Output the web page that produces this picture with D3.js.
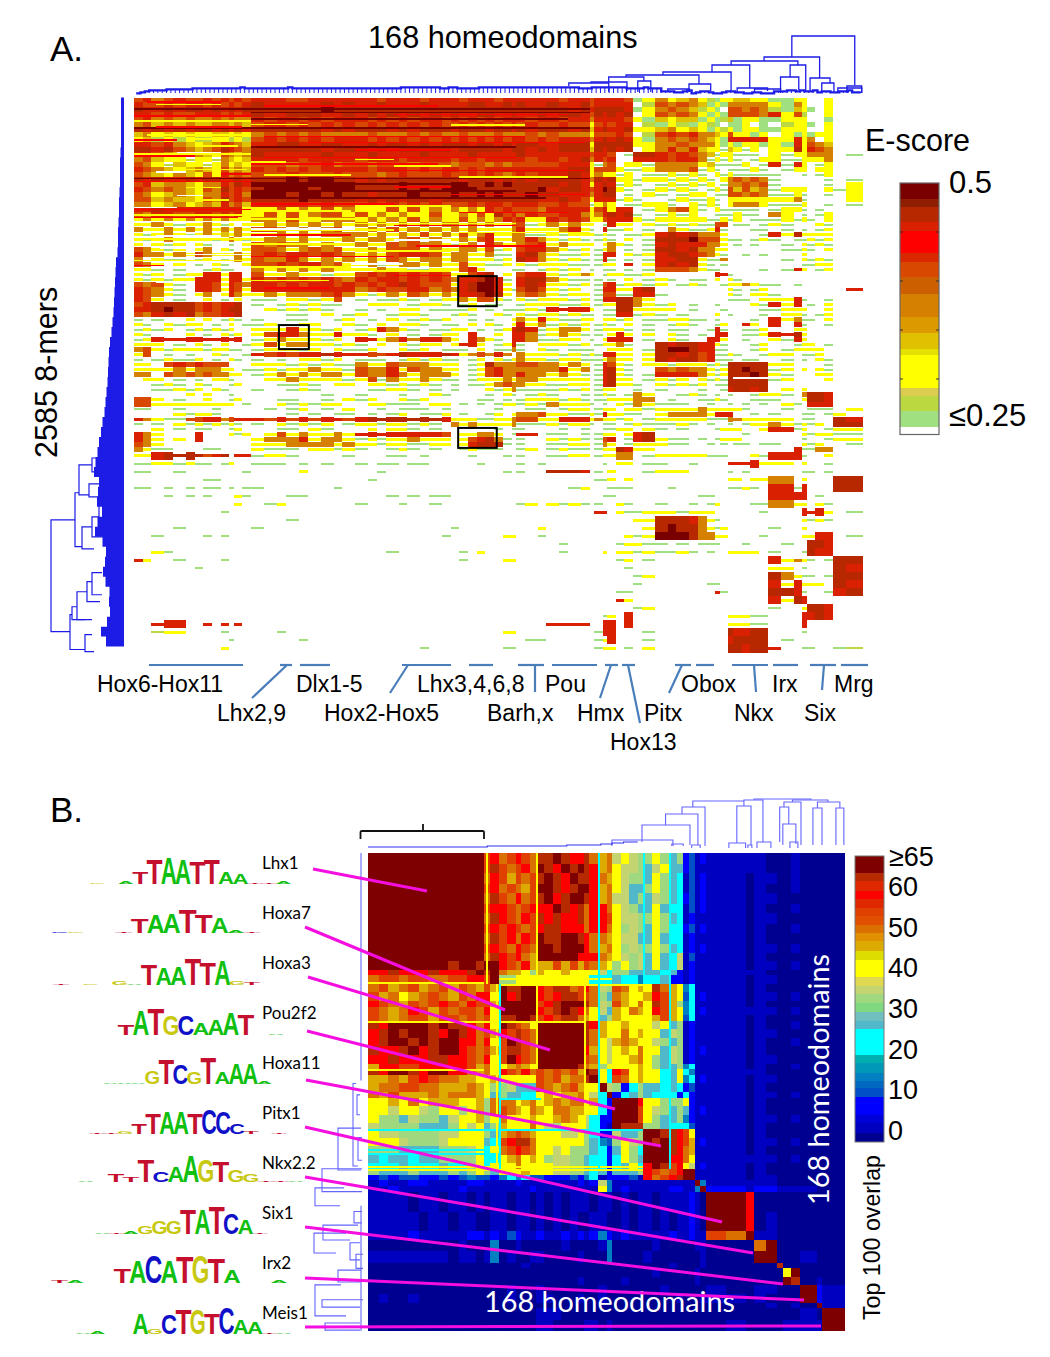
<!DOCTYPE html>
<html><head><meta charset="utf-8">
<script src="https://cdnjs.cloudflare.com/ajax/libs/d3/7.8.5/d3.min.js"></script>
<style>html,body{margin:0;padding:0;background:#fff}svg{display:block}text{font-family:"Liberation Sans",Arial,sans-serif}</style>
</head><body><svg id="c" width="1050" height="1357"></svg>
<script>
// ---------- DATA: panel A, E-score ----------
const eScoreColGroups=[[2,2,3,2,3,2,2,2,2,2,1,2,2],[3,3,2,3,2,3,3,2,3],[3,2,2,3,2,3,2,3,2],[2,2,2,2,2,2,2,1],[2,3,2],[3,2,3,2],[1,2,1,2],[2,2],[2,3],[3,2,3,2],[2,2,1,2],[1],[2,2,2,2],[3,3],[2,1],[2,2,2],[3,4]];
const eScoreLevels=[0.245,0.26,0.275,0.31,0.34,0.375,0.41,0.455,0.47,0.495];
const kmersPerTopRow=23.25, kmersPerLowRow=37.37, topRowCount=71;
const eScoreRows=[
"6756766767676 777667777 776777677 76777677 777 7677 6777 76 13 5345 3213 3 4433 11 33 003 00",
"7667677676767 877777878 778777877 77887787 877 8778 6777 77 02 6565 4131 5 5555 31 53 003 00",
"8778788787878 888888988 888888888 88888888 888 8878 7888 87 13 5654 2310 6 6565 21 43 103 00",
"7767667776767 877888778 787878787 87788778 778 7887 6878 78 03 6565 3131 6 6665 73 62 003 00",
"6756565565655 767767677 767676776 76767677 767 7677 5777 76 31 4344 1312 4 1331 13 33 001 00",
"5645454455454 677676767 676767676 67676767 676 6766 3676 77 02 1321 3210 1 1301 02 33 103 00",
"8787878878787 888888787 888787888 78887887 878 8878 4787 78 33 4534 3132 3 1331 13 33 003 00",
"4534343344343 565656555 565556565 56555655 565 6555 3666 76 02 6767 5543 6 3313 03 13 133 00",
"3423232233232 676767677 767676767 67676767 767 6777 5787 87 31 5656 5431 7 7777 33 73 503 00",
"7767543457654 778877887 787887878 88788787 887 7888 3888 88 33 5565 5531 3 1331 31 73 654 00",
"8878654568765 888888788 878788888 78888878 878 7888 4878 78 03 5757 4331 4 3130 33 83 765 00",
"7765435436545 877777877 787777877 77877777 877 7777 6776 01 88 7676 5413 3 1110 31 33 555 01",
"5643323325434 777767777 677767777 67767777 767 7678 5767 00 77 7677 5131 3 1013 31 13 335 00",
"6532433235343 666566756 656665666 56665656 666 6777 3156 03 31 5555 3411 1 1301 71 73 013 00",
"7654345436454 767676777 767776767 76767777 777 7788 3666 31 13 5556 1310 1 1131 01 33 033 00",
"6543543637565 666766676 665676667 66767656 767 7787 3533 13 01 1313 1031 3 1111 10 01 013 00",
"8787787887787 888989988 787888888 87888787 878 8887 5878 33 13 3131 3103 5 6565 10 00 001 01",
"6745543557687 999999999 888898888 99889898 888 8787 3787 13 10 1313 1301 5 5656 10 00 001 03",
"7656543658676 899998999 888898989 99988888 889 7887 6798 31 01 3131 0131 6 4645 13 33 003 13",
"6534543557675 999899898 878889888 98898988 898 8777 5788 01 03 1013 3011 6 6565 11 31 001 03",
"6645443658676 888898888 787878878 88888888 887 7876 3777 13 10 0131 1310 3 3333 33 51 000 03",
"5534534547564 777776766 676767676 66767767 776 6766 1353 01 13 3103 1310 3 5553 11 13 001 01",
"7787777777773 336353635 333636353 53537676 665 7777 3673 77 01 3563 1031 1 1110 13 31 010 00",
"6577667767673 363635663 635353363 35363867 576 6775 3578 78 10 1313 0011 1 3110 53 01 013 00",
"3535353535333 553633555 353536353 36353576 733 7676 3367 77 31 3333 3113 1 3011 13 13 103 00",
"3353133531303 353535353 535353535 53535335 613 5353 3017 33 03 1313 1166 0 1101 31 00 031 00",
"5335353535353 665353563 353635353 53533335 733 3573 1071 13 01 0531 1371 0 0011 01 01 013 00",
"3135313534353 335353555 535353635 36357335 511 3133 3131 01 13 7878 5553 0 0001 73 83 333 00",
"3135333313531 355353335 355356353 35367335 575 3131 0131 03 01 8889 6663 1 1013 10 11 313 00",
"3031303100103 656553533 533656553 13507533 567 3533 3035 31 01 7877 7553 0 1010 01 03 131 00",
"6531303503103 665356563 353666353 35536130 677 5313 0135 01 01 8878 5533 0 0000 01 13 103 00",
"7553536533353 676776765 353677763 55335110 785 3113 0177 03 13 7887 6531 0 0101 00 03 000 00",
"5031101301053 655753535 353653553 55333130 875 3131 0171 01 01 7788 3115 0 0000 01 03 131 00",
"6530301031003 667677563 351355353 36331130 313 3311 0133 07 03 7878 3101 0 0000 00 01 133 00",
"3310100131100 535353533 335331133 36730001 101 3130 1011 01 01 6665 3110 0 0001 01 73 013 00",
"3130133773770 633533133 676767676 33678030 677 3135 3013 31 13 0000 0077 1 0000 00 00 000 00",
"3131337773773 767676765 767767676 57789710 788 5311 0101 03 01 3101 1030 3 1000 00 00 000 00",
"6563107763765 776767767 676787666 37899730 787 3313 0167 13 31 3013 1001 3 3531 10 10 000 00",
"7653107763763 777777777 567667756 57899731 686 3130 0177 33 78 0000 0000 3 1013 00 00 000 07",
"7653103503753 353555675 313536535 37789830 565 3133 0166 11 77 1000 0000 3 1033 10 00 000 00",
"7630100301030 110331360 101131013 35366310 313 3313 0177 88 53 0000 0000 1 1103 33 71 001 00",
"6788886767780 101313110 033301331 01301100 133 3113 0133 88 53 1301 0010 0 0031 73 70 103 00",
"7789886767880 031313100 101033011 11301011 131 7777 3011 88 33 3301 0001 0 0001 13 33 003 00",
"6578785667780 000110301 300133100 13100310 313 3131 1011 77 13 1010 0030 1 0001 03 31 013 00",
"1010030301310 100110013 010301313 00101003 537 3113 3033 13 01 1331 1010 0 0010 73 51 103 00",
"3103133010301 131033003 103033101 10303103 735 1313 0131 03 01 0131 0013 0 0730 70 71 001 00",
"1313013131300 333733130 137531011 33010137 871 3553 0133 31 01 0110 0171 0 0113 00 33 000 00",
"3100030103130 367753373 310301013 30700307 751 3531 0103 73 03 0310 1077 0 0113 77 83 000 00",
"1377777777770 135333130 773575775 30753107 751 1330 1037 77 01 0310 0773 0 0100 31 73 000 00",
"3330103103001 363553313 103031330 37730137 103 3313 0133 51 00 8788 7731 0 0013 00 13 301 00",
"5631333133110 133313031 130031301 11030115 103 1011 1003 33 01 8998 7711 0 0013 01 33 330 00",
"3601010031001 767677877 766787778 73565750 533 3131 3177 33 03 8878 6711 3 1001 33 01 130 00",
"1013113010310 101033130 111013131 10130313 533 1331 1135 33 03 8788 6711 1 0110 01 01 031 00",
"3306767666000 333131311 533655533 30138555 665 5353 0176 31 03 3133 3131 8 8888 33 00 001 00",
"3333535553301 131335331 655736553 30136755 555 5735 0178 31 00 6565 5313 8 8988 13 03 031 00",
"5506565655330 135353553 655753555 30136755 755 3531 0178 31 01 7777 5313 8 8898 31 00 033 00",
"0330101033100 033533331 361533531 10133353 553 3333 0178 33 01 3130 3131 8 8888 13 00 003 00",
"0013103100130 001131033 033131310 10113565 533 1133 0178 33 10 3131 3011 8 8888 00 00 000 00",
"0011313031000 100131000 011331010 10003135 111 1313 0133 00 10 1000 1001 7 8878 03 03 000 00",
"0000030300100 000000100 100010031 00001031 013 1001 0131 01 53 0013 1010 1 0013 31 05 887 00",
"6630100300130 001100103 130031300 00011010 133 3131 0113 33 55 0100 1131 0 0011 10 03 887 00",
"6633333333301 003131330 033111033 01010133 131 5333 1010 31 53 1110 0100 1 0101 03 10 777 00",
"1100100010000 010130103 001011101 00000100 011 0133 0133 03 31 3333 5333 3 3100 01 00 111 03",
"0000313310000 000101011 010130113 01001303 556 3311 3173 31 10 3555 5377 7 0010 10 01 101 30",
"7531166775677 767676776 788888887 33311335 663 3777 3533 13 01 3333 3111 5 5333 33 01 100 87",
"1010313131310 103131301 331331310 53533335 111 3133 1011 01 31 1131 0100 1 0133 53 13 130 88",
"0030101100130 001103100 030331010 00000101 100 0101 0011 33 03 1010 0013 3 3003 77 13 001 33",
"7530007000313 036353353 777777776 03355301 770 1101 0133 03 78 0000 0000 0 0100 00 03 133 11",
"7530307000000 355573553 131335333 03678510 100 3131 0167 01 78 3110 1013 3 3000 00 01 001 33",
"6530000000000 333555535 331331133 03788810 100 1133 0153 01 33 3110 0101 0 1101 10 03 130 01",
"5311000110000 311103313 100131010 01311100 130 1311 0133 87 33 0000 0000 0 0000 00 71 155 00",
"3378888678077 133100001 000110100 00100010 100 1133 0133 55 01 3333 3111 0 0031 77 71 003 00",
"1133131101300 111010100 101101100 00010000 101 0000 0010 33 01 1001 0000 7 7773 33 03 001 00",
"1100100000001 000030000 001000000 00000010 100 8887 0103 00 01 3330 0000 1 0100 00 01 101 00",
"0000000110000 000000000 010000000 00000000 000 0000 0113 03 00 0000 0000 3 3033 55 03 000 88",
"1101010110101 100000010 000000000 00000000 000 0013 0001 11 00 0100 0000 1 1310 77 17 000 88",
"0001010100031 000110000 000101011 00000000 000 0000 0011 00 00 0000 1100 0 0000 77 77 010 00",
"0000000000030 013000000 100010010 00000000 130 3131 0100 31 00 1001 0130 0 0011 55 33 031 00",
"0000000001000 000000000 000000000 00000000 000 0000 0770 31 13 3313 3300 0 0001 00 07 773 01",
"0000000000000 000100000 000000000 00000000 000 0000 0000 00 33 8887 5310 0 0000 00 03 131 00",
"0000100000000 100000000 000000000 10000000 003 0000 0000 00 03 8988 5313 0 0000 10 03 000 00",
"0010000101000 000000000 000000001 00000033 001 0000 0000 03 13 9998 5533 0 0001 00 03 377 01",
"0000000000000 000000000 000000000 00000000 000 0100 0000 13 31 1010 1110 0 0100 01 00 887 00",
"0031000000000 000000000 000100000 01030000 000 0100 0030 33 13 1131 0100 3 3330 10 01 877 00",
"7300100001000 000000000 000000000 01000033 000 0000 0000 13 01 0000 0000 0 0000 73 53 101 88",
"0000001000000 000000000 000000000 00000000 000 0000 0000 01 00 0000 0000 0 0000 33 01 000 87",
"0000000000000 000000000 000000000 00000000 000 0000 0000 00 13 0000 0000 0 0000 85 31 101 88",
"0000000000000 000000000 000000000 00000000 000 0000 0000 00 10 0000 0110 0 0000 73 73 330 87",
"0000000000000 000000000 000000000 00000000 000 0000 0000 11 00 0000 0071 0 0000 88 71 001 78",
"0000000000000 000000000 000000000 00000000 000 0000 0000 73 00 0000 0000 0 0000 73 87 000 00",
"0000000000000 000000000 000000000 00000000 000 0000 0000 00 13 0000 0000 0 0000 10 03 887 00",
"0000000000000 000000000 000000000 00000000 000 0000 0013 07 00 0000 0000 3 3311 00 07 787 00",
"0077700707070 000000000 000000000 00000000 000 7777 0077 07 00 0000 0000 3 3311 00 07 000 00",
"0023300001000 001000000 000000000 00000033 000 0000 0177 00 01 0000 0000 8 7788 00 01 000 00",
"0000000000100 000010000 000000000 00000000 011 0000 0137 00 01 0000 0000 7 8888 01 00 000 00",
"0000000003000 000000000 000000100 00000011 000 0000 0133 01 03 0000 0000 8 8788 70 01 100 12"];
// thin single-row streaks: [row, first column, last column, E-score]
const eScoreStreaks=[[2.2,0,105,.495],[2.9,27,105,.495],[6,0,105,.495],[17.2,27,73,.495],[18.6,27,88,.495],[20,27,95,.495],[9.8,27,88,.495],[4.2,27,100,.495],[16.1,0,105,.495],
[0.8,3,20,.44],[1.6,30,70,.44],[3.6,0,27,.44],[3.3,60,100,.44],[5.8,5,25,.44],[7.7,30,90,.44],[8.4,0,10,.44],[8.9,40,104,.44],[10.4,51,73,.44],[11.6,0,14,.44],[11.9,30,88,.44],[13.2,27,70,.44],[14.5,60,104,.44],[15.2,20,27,.44],[16.7,0,27,.44],[17.8,60,73,.44],[19.3,73,104,.44],[21.2,27,60,.44],[22.3,0,27,.44],[22.9,75,100,.44],[23.9,0,24,.44],[25.5,60,88,.44],[27.4,27,50,.44],[29.6,65,95,.44],[31.7,27,60,.44],[33.5,0,7,.44],[35.5,60,73,.44],[38,30,45,.44],
[1.3,5,20,.30],[4.6,0,27,.30],[5.3,27,40,.30],[5.4,73,90,.30],[7.4,3,25,.30],[8.2,12,22,.30],[9.6,14,24,.30],[11.2,0,27,.30],[12.3,51,60,.30],[12.8,27,35,.30],[13.6,60,73,.30],[14.3,10,26,.30],[15.4,30,50,.30],[15.8,75,100,.30],[17.9,12,20,.30],[20.4,15,22,.30],[21.6,51,73,.30],[22.6,27,50,.30],[23.4,0,27,.30],[24.2,27,51,.30],[25.1,51,88,.30],[26.4,27,60,.30],[26.9,75,105,.30],[28.2,0,27,.30],[29.2,27,51,.30],[30.6,51,73,.30],[32.5,0,27,.30],[33.8,27,50,.30],[34.6,55,73,.30],[36.5,27,45,.30],
[10.9,10,20,.245],[14.8,5,12,.245],[19.5,10,16,.245],[21.9,0,10,.245],[24.7,0,27,.245],[26.2,27,51,.245],[27.6,5,20,.245],[28.4,60,73,.245],[30,6,12,.245],[31.3,12,27,.245],[33.2,50,62,.245],[36.8,5,14,.245],[56,138,146,.245]];
const eScoreBandEdges=[0.5,.484,.476,.460,.451,.429,.419,.404,.387,.363,.347,.331,.324,.291,.283,.267,.251,.243];
const eScoreBandColors=["#7a0000","#8f1f00","#b82800","#d92000","#ff0000","#d92800","#d84800","#cc6000","#d58000","#dd9a00","#e0c000","#e4e000","#ffff00","#dccc50","#bcd840","#a0e080","#ffffff"];
const eScoreTickValues=[0.5,0.25];
const groupNames=["Hox6-Hox11","Lhx2,9","Dlx1-5","Hox2-Hox5","Lhx3,4,6,8","Barh,x","Pou","Hmx","Pitx","Hox13","Obox","Nkx","Irx","Six","Mrg"];
// dendrogram links: [left leaf, left height, right leaf, right height, join height]
const topLinksA=[[151.6,39,166.1,11,60],[145.2,35,158,18,39],[137.6,31,153,31,35],[133.2,24,141.9,8,31],[121.9,21,137.6,4,24],[151.2,19,154.8,4,31],[149,6,153.2,6,19],[155.8,4,160.4,13,18],[158.5,5,161.3,4,13],[162.2,3,167.7,3,8],[164.3,3,167.7,3,10],[113.4,19,130.2,12,21],[127.9,4,132.9,5,12],[109.4,14,117.5,15,19],[116.1,4,119.1,4,15],[105.3,13,113.6,5,14],[100.2,10,109.4,4,13],[123,4,128,4,7],[139,4,146,5,8],[143,4,149,3,7]];
const leafHeightsA="345666677777788888888888988888888889888888888888888888888888899999999988998888899999999999999999999999888999999998888988855544563455433455443344333555665655645544556444333444".slice(0,168);
const leftProfileA=[3,3,3,3,3,3,4,4,4,4,5,5,5,6,6,6,7,9,8,10,9,11,10,13,12,16,14,17,15,18,17,20,19,24,22,28,25,32,28,22,30,24,20,33,25,18,18,20,22,15,14,16,12,22,24,12];
const leftLinksA=[[1967,49,2488,54,73],[1841,45,2092,42,49],[1711,32,1851,35,45],[1679,26,1744,22,32],[2000,32,2102,30,42],[1953,25,2046,20,32],[2409,52,2571,39,54],[2372,47,2432,39,52],[2302,37,2432,32,47],[2255,32,2348,24,37],[2213,22,2316,22,32],[2502,32,2581,30,39],[1800,20,1860,22,35],[1900,18,1990,16,25]];
// ---------- DATA: panel B, top 100 overlap ----------
const overlapGroups=[[4,3,4,3,4,3,4,3,4,3,3,3],[2,3],[3,3,2,3,2],[3,3,3,3,3,2],[2,3],[3,2],[3,3,3,2],[3,3,3,3,2],[2,2],[2,2],[7,7],[3],[4,4],[2],[3,3],[3,3],[2],[4,4]];
const overlapLetters="abcdefghijklmnop".split("");
const overlapValues=[-1.5,0.5,5,9,13,21,26,31.8,34.5,39,45,49,53,57.5,62,65];
const overlapRows=[
"pppppppppppp mn lmnml ooponn ol kl ijih hjhgh cd bc bb b ba a ab aa a aa",
"pppppppppppp mo mlmnl ponpop on kl jiih gijgg cd bb bb b ba a ab aa a aa",
"pppppppppppp ln mkmlm oponpo on lk jihh gjhgf bd bc bb a bb a ab aa a aa",
"pppppppppppp mn lmlkm pponop pn kl jigg hjhgf bd bc bb a ba a ab aa a aa",
"pppppppppppp lo mlnlm opnopp on kl iigh gihgf cd bc bb a bb a aa aa a aa",
"pppppppppppp mn nmlmn nnpono ln nl jihg gjgff bd bc bb a ba a ab aa a aa",
"pppppppppppp lo nmlnm ononno ln nm jiih hjhgf bc bb bb a bb a aa aa a aa",
"pppppppppppp mn mnmlm noonnn ln nl jhih gjhff cd bc bb a ba a ab aa a aa",
"pppppppppppp lo mnlnm pooppo nl lk jiig gjgff bc bb bb a ba a aa aa a aa",
"pppppppppppp mn mlnml ppoppp nl kl jhih hjhgf bc bc bb a bb a ab aa a aa",
"pppppppppppp lo nmnlk pppppn nn lk jihi gjgfi bd bb bb a ba a aa aa a aa",
"ppppppppoppo pp nmlnk kkmkmk ml kj hjhi gjgfi bc bb bb a bb a ab aa a aa",
"nnonnnonnnop op lkkjh kjjkjj jj if hhgg ggfgc bc bb bb b ba a aa aa a aa",
"lmmlmmllmmnn mp hhjjj jjjjjj jf ff gffe ffgcc bc bb bb a bb a aa aa a aa",
"lmklmklmkmlk mk poopp nmoolm nl ih mljk jolkj ef bb bb a ba a aa aa a aa",
"mkljklmlkmln nj pnopp nmnoom ml hg lkjj knmkj df bc bb a bb a ab aa a aa",
"nmlkmlmnmlnm mk ppppp mnoppp ol ih mkjl jomkh ef bb bb a ba a aa aa a aa",
"mlklnmkmlmml nj ppppp nmopon lj ig kjlk jnmkj ef bc bb b bb a ab aa a aa",
"mlklmmkmmlml mj ooppo mnmool kj gh kjjj jkmkj df bb bb a ba a aa aa a aa",
"onppppopoonl nj pomlj pppppp on kj jkjj jijgh bc bb bb a ba a ab aa a aa",
"nopopponponl mk nmoml pppppp ol kj jljk jjgih bc bb bb a bb a aa aa a aa",
"noppopoppnnl nj mpoml pppppp ol ji klkj jihgh bc bb bb a ba a ab aa a aa",
"onnopnoppnml mk mooml pppppp nk ji jkjl jjgih bc bc bb a ba a aa aa a aa",
"nnonnnoonnml nj mpnml pppppp ml ji jjkl jhgih bc bb bb a bb a aa aa a aa",
"knnmmnnnnnmk lj jklkj pppppo lk hj jjjk jhggh ef bb bb a ba a ab aa a aa",
"onpponppnnlk lj nmlnl mlmlmk po jf nmjk jjfgj fe bb bb b ba a aa aa a aa",
"kklkmnmllkkj jk jjjjj mlmkll op jf mljk jjfgj ef bc bb a bb a aa aa a aa",
"kllmmllkkklk jh higgg mlklmk jj pi hcfh ggfgf cd bb bb a ba a aa aa a aa",
"lkmkkklklllk jg hggff jkjkkl ji fp cfgh gfffc fc bb bb a bb a ab aa a aa",
"jjkjljkkkjjk hl lljkl jklkll jk fc pppn jjhhh jc bb bb a ba a aa aa a aa",
"jjijjihjjhjk hl mlkjl kjllkk jj fc pppm jihgh gc bc bb a ba a aa aa a aa",
"jhhgihhgijjk hj ljjjk jjklkj if cc pppm jhggh ec bb bb a bb a ab aa a aa",
"ihhhhggghjij gh kjjjl jihjjj hf cb pooo hhgff fd bb bb a ba a aa aa a aa",
"jiihhhhiijjj hg klmlk jjjiij hf cc iggh ppoon mj bb bb a ba a aa aa a aa",
"jjjihhhijjjj gf mnool jjjjjj hg ed hjih popon mk bc bb a bb a ab aa a aa",
"hhhgggghhhij fj lmnml jjijhh hg fc gjhf pppon lk bb bb a ba a aa aa a aa",
"gfggfgghhhhj ff jkljk jhiihh gf fc fjhg pppnn lj bb bb b bb a ab aa a aa",
"fffgfffgffhj fj jjljj jjiihh gf fc fgjf npomn ji bc bb a ba a aa aa a aa",
"hggghggghghj hg jjjkj jjiihh gf gc gggh nmlmn pp bb bb a ba a aa aa a aa",
"cdcddccdcded dc efefd dcccdc ef bc ccdb nlmno pp bb bb a bb a aa aa a aa",
"bcbbccbbbbcc bb bbcbb bbbbbc bc ie bbbb bbbbb bb pe bb b bb a aa aa a aa",
"bbcbbbbbbcbb bb bbbbc bbbbbb bb je bcbb bbbcc bb ep cc b cc b bb bb a aa",
"bbbbabbabbab ab babba bababb ba bb abab babbb bc ba pp n aa a aa aa a aa",
"bbbbbabbabba ab babba bababa ab ba abab babab bc ba pp n ab a aa aa a aa",
"bbbbcbbbbbcc bc bdcbb cbbcbc bc ec bcbb bbbcb bc bb ml p bb a aa aa a aa",
"aaaaaaaaabaa ae aabaa aaabaa aa be aaaa abaaa aa bb aa a lp a aa aa a aa",
"bbbbbbbbabba be abaab baaaab aa ae aaaa baaaa aa ab aa a pp a aa bb a aa",
"aaaaaaaaaaaa aa aaaba aaaaaa aa aa aaaa aaaba aa ab aa a aa o aa aa a aa",
"aaaaaaaaaaaa aa aaaaa aaaaaa aa aa aaaa abaaa aa ba aa a aa a jp aa a aa",
"aaaaaaaaaaaa aa aaaaa aaaaab aa aa abaa aaaaa aa ba aa a aa a po aa b aa",
"aaaaaaaaaaaa aa abaaa baaaaa aa ba aaaa aabaa aa aa ba a bb a aa pp c bb",
"abaabaaaaaaa aa abaaa bbaaab aa ba aaaa aaaab aa ab bb a ba a aa pp c bb",
"aaaaaaaaaaaa aa aaaaa aaaaaa aa aa aaaa aaaaa aa aa aa a ab a ab aa p bb",
"aaaaaaaaaaaa aa aaaaa bbbaaa aa aa aaaa aaaaa aa aa aa a aa a aa bb a pp",
"aaaaaaaaaaaa aa aaaaa bbaaaa bb ab aaaa aaaaa aa aa ab a aa a bb bb b pp"];
// one-homeodomain wide lines: [index, from, to, overlap value]
const overlapRowLines=[[45.5,0,41,39],[46,46,97,39],[59,0,76,39],[76,0,41,39],[97,0,97,21],[111,0,97,39],[110,0,97,39],[104,0,41,21],[44,46,86,39],[86,46,61,21],[105.5,0,46,21]];
const overlapColLines=[[46,46,111,21],[59,0,76,39],[97,0,46,21],[41.5,0,46,39],[45,46,111,39],[76,46,97,39],[81,0,111,21],[106,0,111,21]];
const overlapBandEdges=[67.5,63.2,61.2,58.7,56.7,54.6,52.6,50.5,48.4,46.4,44.1,41.9,37.7,35.5,33.5,31.2,29.1,26.9,24.9,18.5,16.4,14.1,12.1,10.3,8.1,3.7,1.7,-0.7,-3];
const overlapBandColors=["#7f0000","#b52a00","#e02800","#ff0000","#e02800","#e04000","#e05000","#d97000","#e09000","#dcaa00","#dddd00","#ffff00","#e0d850","#c4d470","#a0d880","#80d880","#70c0c0","#50b8c8","#00ffff","#00b0b0","#0098b8","#0080c0","#0068c0","#0050c8","#0000ff","#0000d8","#0000c0","#000090"];
const overlapTicks=[60,50,40,30,20,10,0];
const topLinksB=[[96.5,8,113.4,5,25],[104.8,25,116.2,5,36],[110.6,36,118.7,4,43],[114.4,43,132.4,44,49],[129.9,7,134.9,5,44],[132.4,49,139.1,8,50],[145,8,148.2,26,43],[146.1,5,150.7,6,26],[146.5,43,152.5,5,48],[156.7,5,159.9,5,42],[164.8,5,167.6,5,42],[158.3,42,166.2,42,48],[149.5,48,162,48,50],[136,50,156,50,51],[127.1,2,133,2,7],[133.8,2,135.2,2,5],[137,2,141.9,2,8],[148.6,2,151.4,2,8],[85.9,4,107.4,4,10],[107,4,111,4,6],[114,2,117,2,5]];
const envelopeB="333333333333333333333333333333333333333333444444444444444444444444444455555555555566667777888888";
const leftLinksB=[[0,5,80,5,5],[81,10,110,8,13],[96.7,5,111.4,5,28],[111,4,119,4,44],[117.7,22,124,26,51],[133.6,20,140.6,30,52],[130.8,8,136,16,43],[137,6,143,6,16],[151.8,25,162.7,20,51],[146.6,5,150.8,5,28],[157,3,159.6,6,44],[165.2,6,167.7,6,41],[124,5,168,5,5],[85,6,92,6,9],[100,4,108,4,8],[126,4,130,4,12],[141,3,146,3,10]];
// ---------- DATA: sequence logos, bits per position ----------
const logoNames=["Lhx1","Hoxa7","Hoxa3","Pou2f2","Hoxa11","Pitx1","Nkx2.2","Six1","Irx2","Meis1"];
const logoLetters=["G.ATTAATTAATTA","CG..TTAATTAAT","T.G.GATAATTAGT","TATGCAAAT.A","AAAGTCGTAAAA","TTGTTAATCCCT.T","A.TTTCAAGTGGTTA","ATAGGGTATCAT","TA..TACATGTA..A","AA..AGCTGTCAATA"];
const logoBits=[[.1,0,.2,.8,1.67,1.78,1.67,1.56,1.73,.78,.67,.1,.1,.2],[.1,.1,0,0,.1,1,1.29,1.33,1.6,1.29,1.07,.15,.1],[.1,0,.1,0,.3,.05,1.4,1.16,1.22,1.78,1.5,1.67,.3,.2],[.67,1.67,1.78,1.33,1.33,.78,1.11,1.56,1.44,0,.1],[.08,.08,.08,.89,1.67,1.33,.78,1.78,.78,1.44,1.44,.15],[.05,.08,.2,.67,1.44,1.56,1.56,1.44,1.67,1.56,.67,.2,0,.08],[.08,0,.49,.33,1.56,.67,1.11,1.78,1.56,1.44,.78,.56,.1,.08,.06],[.1,.1,.15,.55,.89,.89,1.67,1.67,1.89,1.44,1,.06],[.2,.15,0,0,1,1.56,1.89,1.56,1.78,1.89,1.67,.89,0,0,.15],[.1,.15,0,0,1.44,.33,1.33,1.67,1.67,1.44,1.78,1,.78,.1,.06]];
const logoColors={A:"#10c010",C:"#1010c8",G:"#c8c810",T:"#c4102e"};

// ---------- LAYOUT ----------
const svg=d3.select("#c");
const A={l:134,r:863,t:97.5,b:652.5}, B={l:368,r:845,t:853,b:1331};
const BLUE="#1c1ce6", LINE="#4a7ebb", LIGHT="#6464ff", MAG="#f40ee0";
const parseGroups=(row,groups)=>{const out=[];row.split(" ").forEach((tok,g)=>{const size=groups[g].length;for(let k=0;k<size;k++)out.push(tok[k]||tok[tok.length-1]);});return out;};
const cum=a=>{let s=0;return [0,...a.map(v=>s+=v)];};

// Panel A heat map
const colEdgesA=cum(eScoreColGroups.flat());
const xA=d3.scaleLinear().domain([0,168]).range([A.l,A.r]);
const rowEdgesA=cum(eScoreRows.map((_,i)=>i<topRowCount?kmersPerTopRow:kmersPerLowRow));
const yA=d3.scaleLinear().domain([0,2585]).range([A.t,A.b]);
const colorA=d3.scaleThreshold().domain(eScoreBandEdges.slice(1,-1).reverse()).range(eScoreBandColors.slice().reverse());
const gA=svg.append("g").attr("shape-rendering","crispEdges");
const gridA=eScoreRows.map(r=>parseGroups(r,eScoreColGroups).map(Number));
const strong=(r,c)=>r>=0&&r<gridA.length&&gridA[r][c]>=3;
gridA.forEach((row,r)=>{
  row.forEach((lv,c)=>{
    if(lv===0)return;
    const y0=yA(rowEdgesA[r]), full=yA(rowEdgesA[r+1])-y0;
    let h=full;
    if(lv<=2&&r>=10)h=2;
    else if(lv===3&&r>=25)h=3;
    if(lv>=3&&r>=30&&!strong(r-1,c)&&!strong(r+1,c))h=Math.min(h,3);
    gA.append("rect").attr("x",xA(colEdgesA[c])).attr("width",xA(colEdgesA[c+1])-xA(colEdgesA[c]))
      .attr("y",y0+(full-h)/2).attr("height",h).attr("fill",colorA(eScoreLevels[lv]));
  });
});
eScoreStreaks.forEach(s=>{
  const c=colorA(s[3]);
  gA.append("rect").attr("x",xA(s[1])).attr("width",xA(s[2])-xA(s[1])).attr("y",yA(s[0]*kmersPerTopRow)).attr("height",1.5).attr("fill",c);
});
// boxes
[[74.7,83.6,832,972],[33.4,40.3,1060,1172],[74.7,83.6,1539,1632]].forEach(b=>{
  svg.append("rect").attr("x",xA(b[0])).attr("width",xA(b[1])-xA(b[0])).attr("y",yA(b[2])).attr("height",yA(b[3])-yA(b[2]))
    .attr("fill","none").attr("stroke","#000").attr("stroke-width",2);
});
// Panel A top dendrogram
const hA=d3.scaleLinear().domain([0,60]).range([96,36]);
const gd=svg.append("g").attr("fill","none").attr("stroke",BLUE).attr("stroke-width",1.3);
topLinksA.forEach(l=>gd.append("path").attr("d",`M${xA(l[0])},${hA(l[1])}V${hA(l[4])}H${xA(l[2])}V${hA(l[3])}`));
const leafA=leafHeightsA.split("").map(Number);
leafA.forEach((h,i)=>gd.append("line").attr("x1",xA(i+.5)).attr("x2",xA(i+.5)).attr("y1",hA(3)).attr("y2",hA(h)).attr("stroke-width",1));
gd.append("path").attr("stroke-width",2.4).attr("d",d3.line().x((d,i)=>xA(i+.5)).y(d=>hA(d-.4)).curve(d3.curveStepAfter)(leafA));
// Panel A left dendrogram
const depthA=d3.scaleLinear().domain([0,73]).range([124,51]);
svg.append("path").attr("fill",BLUE).attr("d",d3.area().x0(depthA(0)).x1(d=>depthA(d)).y((d,i)=>yA(i*46.5)).curve(d3.curveStep)(leftProfileA));
const gl=svg.append("g").attr("fill","none").attr("stroke",BLUE).attr("stroke-width",1.2);
leftLinksA.forEach(l=>gl.append("path").attr("d",`M${depthA(l[1])},${yA(l[0])}H${depthA(l[4])}V${yA(l[2])}H${depthA(l[3])}`));

// text helper
const T=(x,y,s,size,opt={})=>{const t=svg.append("text").attr("x",x).attr("y",y).attr("font-size",size).attr("fill",opt.fill||"#000").attr("text-anchor",opt.anchor||"start").text(s);
  if(opt.font)t.style("font-family",opt.font); if(opt.rot!=null)t.attr("transform",`rotate(${opt.rot} ${x} ${y})`); return t;};
T(50,61,"A.",35); T(50,822,"B.",35);
T(368,48,"168 homeodomains",30.7);
T(57,458,"2585 8-mers",30.5,{rot:-90});
T(865,151,"E-score",30.5);
// group lines and labels
const seg=[[149,243],[280,292],[300,330],[402,451],[469,493],[518,544],[552,597],[605,618],[622,635],[675,691],[696,714],[732,768],[773,798],[810,836],[841,868]];
const stems=[[287,665,252,698],[408,665,390,693],[535,665,535,692],[611,665,600,698],[628,665,640,723],[682,665,669,693],[754,665,756,692],[824,665,822,690]];
const gg=svg.append("g").attr("stroke",LINE).attr("stroke-width",2.2);
seg.forEach(s=>gg.append("line").attr("x1",s[0]).attr("x2",s[1]).attr("y1",665).attr("y2",665));
stems.forEach(s=>gg.append("line").attr("x1",s[0]).attr("y1",s[1]).attr("x2",s[2]).attr("y2",s[3]));
const labelPos=[[97,692],[217,721],[296,692],[324,721],[417,692],[487,721],[545,692],[577,721],[644,721],[610,750],[681,692],[734,721],[772,692],[804,721],[834,692]];
groupNames.forEach((n,i)=>T(labelPos[i][0],labelPos[i][1],n,23));
// colour bar A
const cbA=d3.scaleLinear().domain([0.5,0.25]).range([183,428]);
const gc=svg.append("g").attr("shape-rendering","crispEdges");
eScoreBandColors.forEach((c,i)=>gc.append("rect").attr("x",900).attr("width",39).attr("y",cbA(eScoreBandEdges[i])).attr("height",cbA(eScoreBandEdges[i+1])-cbA(eScoreBandEdges[i])).attr("fill",c));
svg.append("rect").attr("x",900).attr("y",183).attr("width",39).attr("height",251.5).attr("fill","none").attr("stroke","#666").attr("stroke-width",1.2);
[0.45,0.4,0.35,0.3].forEach(v=>{[[900,903],[936,939]].forEach(p=>svg.append("line").attr("x1",p[0]).attr("x2",p[1]).attr("y1",cbA(v)).attr("y2",cbA(v)).attr("stroke","#333"));});
T(949,193,eScoreTickValues[0].toFixed(1),31);
T(949,426,"≤"+eScoreTickValues[1].toFixed(2),31);

// Panel B heat map
const colEdgesB=cum(overlapGroups.flat());
const xB=d3.scaleLinear().domain([0,168]).range([B.l,B.r]);
const yB=d3.scaleLinear().domain([0,168]).range([B.t,B.b]);
const colorB=d3.scaleThreshold().domain(overlapBandEdges.slice(1,-1).reverse()).range(overlapBandColors.slice().reverse());
const gB=svg.append("g").attr("shape-rendering","crispEdges");
overlapRows.forEach((row,r)=>{
  parseGroups(row,overlapGroups).forEach((ch,c)=>{
    gB.append("rect").attr("x",xB(colEdgesB[c])).attr("width",xB(colEdgesB[c+1])-xB(colEdgesB[c]))
      .attr("y",yB(colEdgesB[r])).attr("height",yB(colEdgesB[r+1])-yB(colEdgesB[r]))
      .attr("fill",colorB(overlapValues[overlapLetters.indexOf(ch)]));
  });
});
overlapRowLines.forEach(l=>gB.append("rect").attr("x",xB(l[1])).attr("width",xB(l[2])-xB(l[1])).attr("y",yB(l[0])).attr("height",2).attr("fill",colorB(l[3])));
overlapColLines.forEach(l=>gB.append("rect").attr("x",xB(l[0])).attr("width",2).attr("y",yB(l[1])).attr("height",yB(l[2])-yB(l[1])).attr("fill",colorB(l[3])));
// Panel B dendrograms
const hB=d3.scaleLinear().domain([0,50]).range([850,800]);
const gt=svg.append("g").attr("fill","none").attr("stroke",LIGHT).attr("stroke-width",1.1);
topLinksB.forEach(l=>gt.append("path").attr("d",`M${xB(l[0])},${hB(l[1])}V${hB(l[4])}H${xB(l[2])}V${hB(l[3])}`));
gt.append("path").attr("stroke","#3030f0").attr("d",d3.line().x((d,i)=>xB(i)).y(d=>hB(+d)).curve(d3.curveStepAfter)(envelopeB.split("")));
const dB=d3.scaleLinear().domain([0,55]).range([366,311]);
const gm=svg.append("g").attr("fill","none").attr("stroke",LIGHT).attr("stroke-width",1.1);
leftLinksB.forEach(l=>gm.append("path").attr("d",`M${dB(l[1])},${yB(l[0])}H${dB(l[4])}V${yB(l[2])}H${dB(l[3])}`));
// bracket
svg.append("path").attr("fill","none").attr("stroke","#111").attr("stroke-width",1.8).attr("stroke-linejoin","round")
  .attr("d","M360.5,839V832Q360.5,831 362,831H482.5Q484,831 484,832V839M423,831V824");
// sequence logos
const logoX=[[90,14.33],[51.7,16],[53.7,14.67],[118.3,15],[103.3,14],[90,14],[78.3,15],[95,14.33],[51.7,15.67],[76,14.33]];
const logoBase=[884,933,985,1035,1084,1134,1182,1234,1283,1334];
const bitScale=d3.scaleLinear().domain([0,2]).range([0,30]);
const logoNameY=[869,919,969,1019,1069,1119,1169,1219,1269,1319];
logoNames.forEach((name,i)=>{
  logoLetters[i].split("").forEach((ch,k)=>{
    if(ch==="."||!logoBits[i][k])return;
    const t=svg.append("text").attr("font-size",20).attr("font-weight","bold").attr("fill",logoColors[ch]).text(ch);
    const adv=t.node().getComputedTextLength();
    const sx=logoX[i][1]*1.12/adv, sy=bitScale(logoBits[i][k])/14.6;
    t.attr("transform",`translate(${logoX[i][0]+k*logoX[i][1]-logoX[i][1]*.06},${logoBase[i]}) scale(${sx},${sy})`);
  });
  T(262,logoNameY[i],name,17,{font:"Lato"});
});
// white axis captions
T(484,1312,"168 homeodomains",28.8,{fill:"#fff",font:"Lato"});
T(829,1205,"168 homeodomains",28.8,{fill:"#fff",font:"Lato",rot:-90});
// magenta leader lines
const leaders=[[313,869,427,891],[305,927,505,1010],[308,977,550,1050],[307,1031,615,1109],[306,1080,661,1146],[305,1127,722,1222],[305,1177,753,1253],[305,1227,783,1284],[305,1278,804,1300],[305,1327,821,1326]];
const gk=svg.append("g").attr("stroke",MAG).attr("stroke-width",3);
leaders.forEach(s=>gk.append("line").attr("x1",s[0]).attr("y1",s[1]).attr("x2",s[2]).attr("y2",s[3]));
// colour bar B
const cbB=d3.scaleLinear().domain([0,60]).range([1130,886]);
const gb=svg.append("g").attr("shape-rendering","crispEdges");
overlapBandColors.forEach((c,i)=>gb.append("rect").attr("x",855).attr("width",29).attr("y",cbB(overlapBandEdges[i])).attr("height",cbB(overlapBandEdges[i+1])-cbB(overlapBandEdges[i])).attr("fill",c));
svg.append("rect").attr("x",855).attr("y",856).attr("width",29).attr("height",286).attr("fill","none").attr("stroke","#777").attr("stroke-width",1);
T(889,866,"≥65",27);
overlapTicks.forEach(v=>T(888,cbB(v)+10,String(v),27));
T(880,1320,"Top 100 overlap",23.2,{rot:-90});
</script></body></html>
